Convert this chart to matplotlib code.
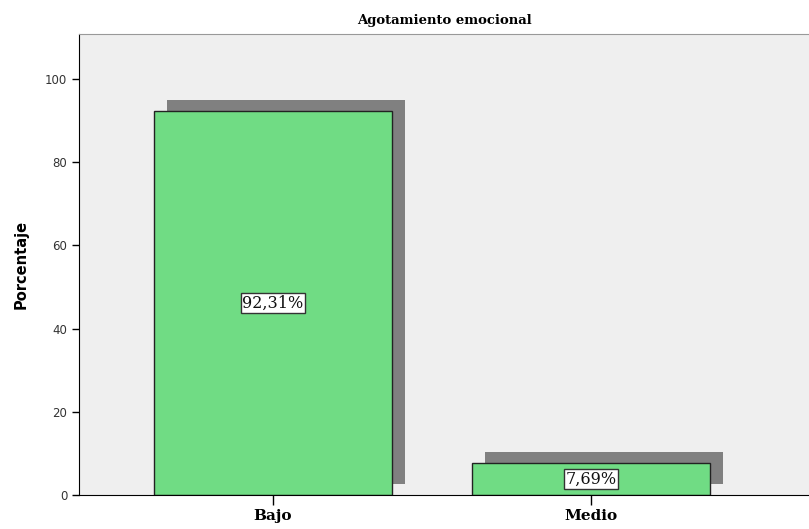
import matplotlib.pyplot as plt
import numpy as np

# Agotamiento emocional - porcentaje por nivel
categories = ['Bajo', 'Medio']
percentages = [92.31, 7.69]
labels = ['92,31%', '7,69%']

fig = plt.figure(figsize=(8.09, 5.29), dpi=100)
ax = fig.add_axes([0.0977, 0.0643, 0.9023, 0.8714])
ax.set_facecolor('#efefef')

x = np.arange(len(categories))
width = 0.748

# drop shadow behind each bar
ax.bar(x + 0.041, percentages, width=width, bottom=2.6, color='#808080',
       linewidth=0, zorder=1)
ax.bar(x, percentages, width=width, color='#70dc84', edgecolor='#222222',
       linewidth=1.0, zorder=2)

for xi, val, lab in zip(x, percentages, labels):
    ax.text(xi, val / 2, lab, ha='center', va='center', fontsize=11.5,
            family='DejaVu Serif', color='#111111', zorder=3,
            bbox=dict(boxstyle='square,pad=0.1', fc='white', ec='#333333', lw=1))

ax.set_xlim(-0.61, 1.686)
ax.set_ylim(0, 110.8)
ax.set_xticks(x)
ax.set_xticklabels(categories, family='DejaVu Serif', fontweight='bold', fontsize=11)
ax.set_yticks([0, 20, 40, 60, 80, 100])
ax.tick_params(axis='y', labelsize=8.5, labelcolor='#333333', length=5, width=1)
ax.tick_params(axis='x', length=7, width=1, pad=3)

ax.set_ylabel('Porcentaje', fontsize=10.5, fontweight='bold',
              family=['Liberation Sans Narrow', 'DejaVu Sans'], labelpad=12)
ax.set_title('Agotamiento emocional', family='DejaVu Serif', fontweight='bold',
             fontsize=9.5, pad=7)

ax.spines['right'].set_visible(False)
ax.spines['top'].set_color('#999999')
ax.spines['left'].set_color('black')
ax.spines['bottom'].set_color('black')

fig.savefig('out.png', dpi=100)
